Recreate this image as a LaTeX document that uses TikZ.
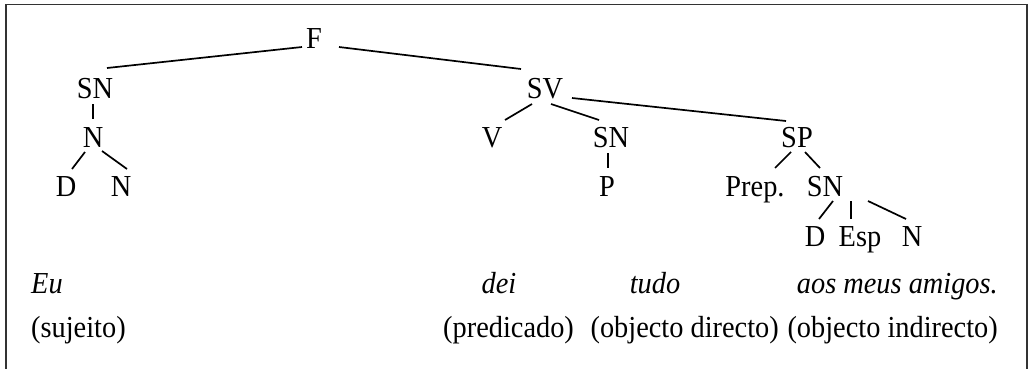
\documentclass[tikz,border=0pt]{standalone}
\usepackage{fontspec}
\setmainfont[FakeStretch=0.93]{Liberation Serif}
\begin{document}
\begin{tikzpicture}[x=1pt,y=-1pt,
  lab/.style={inner sep=0pt,anchor=base,font=\fontsize{30.5}{32}\selectfont},
  edge/.style={line width=1.7pt}]
\useasboundingbox (0,0) rectangle (1028,368);
\draw[line width=1.3pt,black!80] (6,370) -- (6,4.5) -- (1027,4.5) -- (1027,370);
% row 1
\node[lab] (F) at (314,48) {F};
% row 2
\node[lab] (SNa) at (95,98) {SN};
\node[lab] (SV) at (545,98) {SV};
% row 3
\node[lab] (Na) at (93,147) {N};
\node[lab] (V) at (492,147) {V};
\node[lab] (SNb) at (611,147) {SN};
\node[lab] (SP) at (797,147) {SP};
% row 4
\node[lab] (Da) at (66,196) {D};
\node[lab] (Nb) at (121,196) {N};
\node[lab] (P) at (607,196) {P};
\node[lab] (Prep) at (755,196) {Prep.};
\node[lab] (SNc) at (825,196) {SN};
% row 5
\node[lab] (Db) at (815,246) {D};
\node[lab] (Esp) at (860,246) {Esp};
\node[lab] (Nc) at (912,246) {N};
% row 6
\node[lab,anchor=base west] (Eu) at (31,293) {\itshape Eu};
\node[lab] (dei) at (499,293) {\itshape dei};
\node[lab] (tudo) at (655,293) {\itshape tudo};
\node[lab,anchor=base east] (aos) at (998,293) {\itshape aos meus amigos.};
% row 7
\node[lab,anchor=base west] (suj) at (31,337) {(sujeito)};
\node[lab,anchor=base west] (pred) at (443,337) {(predicado)};
\node[lab,anchor=base east] (od) at (779,337) {(objecto directo)};
\node[lab,anchor=base east] (oi) at (998,337) {(objecto indirecto)};
% edges
\draw[edge] ([shift={(-12,-1)}]F.base) -- ([shift={(12,-30)}]SNa.base);
\draw[edge] ([shift={(25,-1)}]F.base) -- ([shift={(-24,-29)}]SV.base);
\draw[edge] ([shift={(-2,6)}]SNa.base) -- ([shift={(0,-28)}]Na.base);
\draw[edge] ([shift={(-8,5)}]Na.base) -- ([shift={(6,-27)}]Da.base);
\draw[edge] ([shift={(9,4)}]Na.base) -- ([shift={(6,-27)}]Nb.base);
\draw[edge] ([shift={(-13,6)}]SV.base) -- ([shift={(13,-27)}]V.base);
\draw[edge] ([shift={(6,6)}]SV.base) -- ([shift={(-12,-27)}]SNb.base);
\draw[edge] ([shift={(27,0)}]SV.base) -- ([shift={(-11,-26)}]SP.base);
\draw[edge] ([shift={(-3,6)}]SNb.base) -- ([shift={(1,-28)}]P.base);
\draw[edge] ([shift={(-6,5)}]SP.base) -- ([shift={(20,-28)}]Prep.base);
\draw[edge] ([shift={(8,5)}]SP.base) -- ([shift={(-5,-28)}]SNc.base);
\draw[edge] ([shift={(8,5)}]SNc.base) -- ([shift={(4,-27)}]Db.base);
\draw[edge] ([shift={(26,5)}]SNc.base) -- ([shift={(-9,-27)}]Esp.base);
\draw[edge] ([shift={(43,5)}]SNc.base) -- ([shift={(-6,-27)}]Nc.base);
\end{tikzpicture}
\end{document}
